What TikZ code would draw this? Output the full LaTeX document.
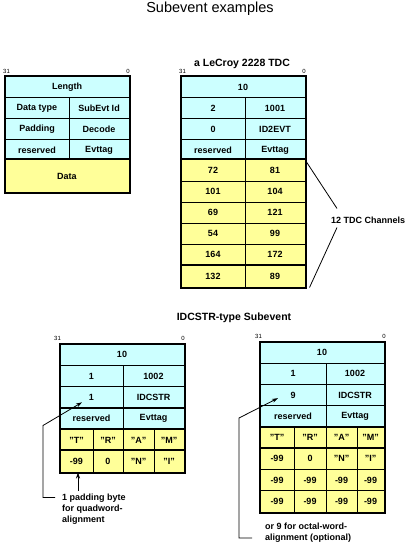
\documentclass[tikz,border=0pt]{standalone}
\usepackage{fontspec}
\setmainfont{Liberation Sans}
\usetikzlibrary{arrows.meta}
\definecolor{hdrcyan}{RGB}{204,255,255}
\definecolor{datyellow}{RGB}{255,255,153}
\begin{document}
\begin{tikzpicture}[x=1pt, y=-1pt,
  cell/.style={draw, line width=1pt, inner sep=0pt, minimum height=21pt, font=\bfseries\fontsize{9}{11}\selectfont},
  hcell/.style={cell, fill=hdrcyan},
  dcell/.style={cell, fill=datyellow},
  bitno/.style={font=\fontsize{6}{7}\selectfont, inner sep=0pt},
  heading/.style={font=\bfseries\fontsize{10.5}{12}\selectfont, inner sep=0pt},
  boxframe/.style={line width=2pt},
  note/.style={font=\bfseries\fontsize{9}{11}\selectfont, align=left, inner sep=0pt},
  pointer/.style={line width=0.8pt, -{Stealth[length=6pt,width=4pt]}},
  wire/.style={line width=0.8pt}]
\useasboundingbox (0,0) rectangle (409,548);
\node[font=\fontsize{14.5}{16}\selectfont, inner sep=0pt] (title) at (210,9) {Subevent examples};
% generic layout
\node[bitno, anchor=south west] (genhi) at (3,74) {31};
\node[bitno, anchor=south east] (genlo) at (130,74) {0};
\node[hcell, minimum width=124pt] (len) at (67,87.5) {Length};
\node[hcell, minimum width=64pt] (dtype) at (37,108.5) {Data type};
\node[hcell, minimum width=60pt] (subid) at (99,108.5) {SubEvt Id};
\node[hcell, minimum width=64pt] (pad) at (37,129.5) {Padding};
\node[hcell, minimum width=60pt] (decode) at (99,129.5) {Decode};
\node[hcell, minimum width=64pt, minimum height=20pt] (resA) at (37,150) {reserved};
\node[hcell, minimum width=60pt, minimum height=20pt] (tagA) at (99,150) {Evttag};
\node[dcell, minimum width=124pt, minimum height=32pt] (data) at (67,176) {Data};
\draw[boxframe] (data.north west) -- (data.north east);
\draw[boxframe] (len.north west) rectangle (data.south east);
% LeCroy 2228 TDC
\node[heading] (tdctitle) at (242,64) {a LeCroy 2228 TDC};
\node[bitno, anchor=south west] (tdchi) at (179,74) {31};
\node[bitno, anchor=south east] (tdclo) at (306,74) {0};
\node[hcell, minimum width=124pt] (t10) at (243,87.5) {10};
\node[hcell, minimum width=64pt] (t2) at (213,108.5) {2};
\node[hcell, minimum width=60pt] (t1001) at (275,108.5) {1001};
\node[hcell, minimum width=64pt] (t0) at (213,129.5) {0};
\node[hcell, minimum width=60pt] (tid) at (275,129.5) {ID2EVT};
\node[hcell, minimum width=64pt, minimum height=20pt] (tres) at (213,150) {reserved};
\node[hcell, minimum width=60pt, minimum height=20pt] (ttag) at (275,150) {Evttag};
\node[dcell, minimum width=64pt] (c1a) at (213,170.5) {72};
\node[dcell, minimum width=60pt] (c1b) at (275,170.5) {81};
\node[dcell, minimum width=64pt] (c2a) at (213,191.5) {101};
\node[dcell, minimum width=60pt] (c2b) at (275,191.5) {104};
\node[dcell, minimum width=64pt] (c3a) at (213,212.5) {69};
\node[dcell, minimum width=60pt] (c3b) at (275,212.5) {121};
\node[dcell, minimum width=64pt] (c4a) at (213,233.5) {54};
\node[dcell, minimum width=60pt] (c4b) at (275,233.5) {99};
\node[dcell, minimum width=64pt] (c5a) at (213,254.5) {164};
\node[dcell, minimum width=60pt] (c5b) at (275,254.5) {172};
\node[dcell, minimum width=64pt, minimum height=22pt] (c6a) at (213,276) {132};
\node[dcell, minimum width=60pt, minimum height=22pt] (c6b) at (275,276) {89};
\draw[boxframe] (c1a.north west) -- (c1b.north east);
\draw[boxframe] (c6a.north west) -- (c6b.north east);
\draw[boxframe] (t10.north west) rectangle (c6b.south east);
\node[note, anchor=west] (chan) at (331,220) {12 TDC Channels};
\draw[wire] (ttag.south east) -- ([shift={(6pt,8pt)}]chan.north west);
\draw[wire] ([xshift=4pt]c6b.south east) -- ([shift={(6pt,-4pt)}]chan.south west);
% IDCSTR-type, quadword
\node[heading] (idctitle) at (234,318) {IDCSTR-type Subevent};
\node[bitno, anchor=south west] (qhi) at (54,341) {31};
\node[bitno, anchor=south east] (qlo) at (185,341) {0};
\node[hcell, minimum width=124pt, minimum height=21.33pt] (p10) at (122,354.67) {10};
\node[hcell, minimum width=63pt, minimum height=21.33pt] (p1) at (91.5,376) {1};
\node[hcell, minimum width=61pt, minimum height=21.33pt] (p1002) at (153.5,376) {1002};
\node[hcell, minimum width=63pt, minimum height=21.33pt] (pn) at (91.5,397.33) {1};
\node[hcell, minimum width=61pt, minimum height=21.33pt] (pid) at (153.5,397.33) {IDCSTR};
\node[hcell, minimum width=63pt, minimum height=21.33pt] (pres) at (91.5,418.67) {reserved};
\node[hcell, minimum width=61pt, minimum height=21.33pt] (ptag) at (153.5,418.67) {Evttag};
\node[dcell, minimum width=33pt, minimum height=21.33pt] (pq1) at (76.5,440) {"T"};
\node[dcell, minimum width=30pt, minimum height=21.33pt] (pq2) at (108,440) {"R"};
\node[dcell, minimum width=31pt, minimum height=21.33pt] (pq3) at (138.5,440) {"A"};
\node[dcell, minimum width=30pt, minimum height=21.33pt] (pq4) at (169,440) {"M"};
\node[dcell, minimum width=33pt, minimum height=21.33pt] (pr1) at (76.5,461.33) {-99};
\node[dcell, minimum width=30pt, minimum height=21.33pt] (pr2) at (108,461.33) {0};
\node[dcell, minimum width=31pt, minimum height=21.33pt] (pr3) at (138.5,461.33) {"N"};
\node[dcell, minimum width=30pt, minimum height=21.33pt] (pr4) at (169,461.33) {"I"};
\draw[boxframe] (pq1.north west) -- (pq4.north east);
\draw[boxframe] (pr1.north west) -- (pr4.north east);
\draw[boxframe] (p10.north west) rectangle (pr4.south east);
\node[note, anchor=north west] (padnote) at (62,494) {1 padding byte\\for quadword-\\alignment};
\draw[pointer] ([shift={(-7pt,-3.5pt)}]padnote.north west) -- ++(-12,0) -- ++(0,-72) -- ([shift={(-9.5pt,-5pt)}]pn.center);
\draw[pointer] ([xshift=1.5pt]pr1.south) ++(0,18) -- ([xshift=1.5pt]pr1.south);
% IDCSTR-type, octal-word
\node[bitno, anchor=south west] (ohi) at (255,339) {31};
\node[bitno, anchor=south east] (olo) at (386,339) {0};
\node[hcell, minimum width=124pt, minimum height=21.25pt] (o10) at (322,352.63) {10};
\node[hcell, minimum width=66pt, minimum height=21.25pt] (o1) at (293,373.88) {1};
\node[hcell, minimum width=58pt, minimum height=21.25pt] (o1002) at (355,373.88) {1002};
\node[hcell, minimum width=66pt, minimum height=21.25pt] (o9) at (293,395.13) {9};
\node[hcell, minimum width=58pt, minimum height=21.25pt] (oid) at (355,395.13) {IDCSTR};
\node[hcell, minimum width=66pt, minimum height=21.25pt] (ores) at (293,416.38) {reserved};
\node[hcell, minimum width=58pt, minimum height=21.25pt] (otag) at (355,416.38) {Evttag};
\node[dcell, minimum width=34pt, minimum height=21.25pt] (oq1) at (277,437.63) {"T"};
\node[dcell, minimum width=32pt, minimum height=21.25pt] (oq2) at (310,437.63) {"R"};
\node[dcell, minimum width=31pt, minimum height=21.25pt] (oq3) at (341.5,437.63) {"A"};
\node[dcell, minimum width=27pt, minimum height=21.25pt] (oq4) at (370.5,437.63) {"M"};
\node[dcell, minimum width=34pt, minimum height=21.25pt] (or1) at (277,458.88) {-99};
\node[dcell, minimum width=32pt, minimum height=21.25pt] (or2) at (310,458.88) {0};
\node[dcell, minimum width=31pt, minimum height=21.25pt] (or3) at (341.5,458.88) {"N"};
\node[dcell, minimum width=27pt, minimum height=21.25pt] (or4) at (370.5,458.88) {"I"};
\node[dcell, minimum width=34pt, minimum height=21.25pt] (os1) at (277,480.13) {-99};
\node[dcell, minimum width=32pt, minimum height=21.25pt] (os2) at (310,480.13) {-99};
\node[dcell, minimum width=31pt, minimum height=21.25pt] (os3) at (341.5,480.13) {-99};
\node[dcell, minimum width=27pt, minimum height=21.25pt] (os4) at (370.5,480.13) {-99};
\node[dcell, minimum width=34pt, minimum height=21.25pt] (ot1) at (277,501.38) {-99};
\node[dcell, minimum width=32pt, minimum height=21.25pt] (ot2) at (310,501.38) {-99};
\node[dcell, minimum width=31pt, minimum height=21.25pt] (ot3) at (341.5,501.38) {-99};
\node[dcell, minimum width=27pt, minimum height=21.25pt] (ot4) at (370.5,501.38) {-99};
\draw[boxframe] (oq1.north west) -- (oq4.north east);
\draw[boxframe] (or1.north west) -- (or4.north east);
\draw[boxframe] (o10.north west) rectangle (ot4.south east);
\node[note, anchor=north west] (octnote) at (265,523) {or 9 for octal-word-\\alignment (optional)};
\draw[pointer] ([shift={(-13pt,-15pt)}]octnote.north west) -- ++(-13,0) -- ++(0,-120) -- ([shift={(-15pt,-3pt)}]o9.center);
\end{tikzpicture}
\end{document}
